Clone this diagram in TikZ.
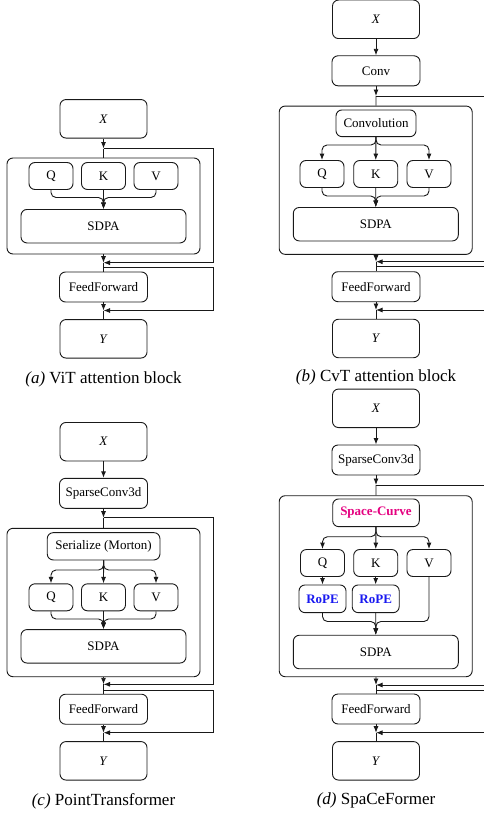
\documentclass[tikz,border=0pt]{standalone}
\usepackage{fontspec}
\setmainfont{Liberation Serif}
\usetikzlibrary{arrows.meta}
\definecolor{curvepink}{RGB}{228,0,127}
\definecolor{ropeblue}{RGB}{25,25,240}

\begin{document}
\begin{tikzpicture}[x=1pt, y=-1pt, line width=0.9pt, draw=black!90, >={Latex[length=6.5pt,width=5pt]},
    every node/.style={draw=black!90, rounded corners=6pt, inner sep=0pt, font=\fontsize{13}{15}\selectfont},
    iobox/.style={minimum width=87, minimum height=38.5},
    opbox/.style={minimum width=88, minimum height=30},
    headbox/.style={minimum width=44, minimum height=27},
    attbox/.style={minimum width=165, minimum height=33.5},
    outbox/.style={minimum width=193},
    caption/.style={draw=none, rounded corners=0pt, font=\fontsize{17}{20}\selectfont}]
    \clip (0,0) rectangle (484,816);

    % (a) ViT
    \node[iobox] (Xa) at (103.5, 118.8) {\textit{X}};
    \node[outbox, minimum height=96] (blka) at (103.5, 206) {};
    \node[headbox] (Qa) at (51, 176) {Q};
    \node[headbox] (Ka) at (103.5, 176) {K};
    \node[headbox] (Va) at (156, 176) {V};
    \node[attbox] (SDPAa) at (103.5, 226.2) {SDPA};
    \node[opbox] (FFa) at (103.5, 287) {FeedForward};
    \node[iobox] (Ya) at (103.5, 338.8) {\textit{Y}};
    \node[caption] (capa) at (103.5, 379) {\textit{(a)} ViT attention block};
    \coordinate (ra) at (213, 0);
    \coordinate (mla) at (0, 197.5);
    \coordinate (j1a) at (103.5, 148.5);
    \coordinate (j2a) at (103.5, 262.7);
    \coordinate (j3a) at (103.5, 267.7);
    \coordinate (j4a) at (103.5, 310.5);

    \draw[->] (Xa) -- (j1a);
    \draw (j1a) -- (blka);
    \draw[->] (j1a) -- (j1a -| ra) -- (j2a -| ra) -- (j2a); % residual
    \draw[->, rounded corners=5pt] (Qa) -- (Qa.south |- mla) -| (SDPAa.north);
    \draw[->, rounded corners=5pt] (Va) -- (Va.south |- mla) -| (SDPAa.north);
    \draw[->] (Ka) -- (SDPAa);
    \draw[->] (blka) -- (j2a);
    \draw (j2a) -- (FFa);
    \draw[->] (j3a) -- (j3a -| ra) -- (j4a -| ra) -- (j4a); % residual
    \draw[->] (FFa) -- (j4a);
    \draw (j4a) -- (Ya);

    % (b) CvT
    \node[iobox] (Xb) at (376, 19.3) {\textit{X}};
    \node[opbox] (Convb) at (376, 70.8) {Conv};
    \node[outbox, minimum height=148.3] (blkb) at (375.7, 180.2) {};
    \node[minimum width=80, minimum height=26.7] (Cnvb) at (376, 123.3) {Convolution};
    \node[headbox] (Qb) at (322, 174) {Q};
    \node[headbox] (Kb) at (375.7, 174) {K};
    \node[headbox] (Vb) at (429, 174) {V};
    \node[attbox] (SDPAb) at (375.8, 224.2) {SDPA};
    \node[opbox] (FFb) at (376, 286.7) {FeedForward};
    \node[iobox] (Yb) at (376, 338.5) {\textit{Y}};
    \node[caption] (capb) at (376, 377.7) {\textit{(b)} CvT attention block};
    \coordinate (rb) at (494, 0);
    \coordinate (brb) at (0, 145);
    \coordinate (mlb) at (0, 196);
    \coordinate (j1b) at (376, 96);
    \coordinate (j2b) at (376, 261.7);
    \coordinate (j3b) at (376, 266.7);
    \coordinate (j4b) at (376, 310);

    \draw[->] (Xb) -- (Convb);
    \draw[->] (Convb) -- (j1b);
    \draw (j1b) -- (blkb);
    \draw (j1b) -- (j1b -| rb) -- (j2b -| rb);
    \draw[->] (j2b -| rb) -- (j2b);
    \draw[->, rounded corners=5pt] (Cnvb) -- (Cnvb.south |- brb) -| (Qb.north);
    \draw[->, rounded corners=5pt] (Cnvb) -- (Cnvb.south |- brb) -| (Vb.north);
    \draw[->] (Cnvb) -- (Kb);
    \draw[->, rounded corners=5pt] (Qb) -- (Qb.south |- mlb) -| (SDPAb.north);
    \draw[->, rounded corners=5pt] (Vb) -- (Vb.south |- mlb) -| (SDPAb.north);
    \draw[->] (Kb) -- (SDPAb);
    \draw[->] (blkb) -- (j2b);
    \draw (j2b) -- (FFb);
    \draw (j3b) -- (j3b -| rb) -- (j4b -| rb);
    \draw[->] (j4b -| rb) -- (j4b);
    \draw[->] (FFb) -- (j4b);
    \draw (j4b) -- (Yb);

    % (c) PointTransformer
    \node[iobox] (Xc) at (103.5, 441.7) {\textit{X}};
    \node[opbox] (SCc) at (103.5, 493.3) {SparseConv3d};
    \node[outbox, minimum height=148.4] (blkc) at (103.5, 602.5) {};
    \node[minimum width=112.7, minimum height=27.3] (Serc) at (103.6, 546.3) {Serialize (Morton)};
    \node[headbox] (Qc) at (51, 597.3) {Q};
    \node[headbox] (Kc) at (103.5, 597.3) {K};
    \node[headbox] (Vc) at (156, 597.3) {V};
    \node[attbox] (SDPAc) at (103.5, 646.3) {SDPA};
    \node[opbox] (FFc) at (103.5, 709.2) {FeedForward};
    \node[iobox] (Yc) at (103.5, 760.8) {\textit{Y}};
    \node[caption] (capc) at (103.5, 801) {\textit{(c)} PointTransformer};
    \coordinate (rc) at (213, 0);
    \coordinate (brc) at (0, 570);
    \coordinate (mlc) at (0, 619);
    \coordinate (j1c) at (103.5, 517.7);
    \coordinate (j2c) at (103.5, 684.3);
    \coordinate (j3c) at (103.5, 690);
    \coordinate (j4c) at (103.5, 732.7);

    \draw[->] (Xc) -- (SCc);
    \draw[->] (SCc) -- (j1c);
    \draw (j1c) -- (blkc);
    \draw[->] (j1c) -- (j1c -| rc) -- (j2c -| rc) -- (j2c);
    \draw[->, rounded corners=5pt] (Serc) -- (Serc.south |- brc) -| (Qc.north);
    \draw[->, rounded corners=5pt] (Serc) -- (Serc.south |- brc) -| (Vc.north);
    \draw[->] (Serc) -- (Kc);
    \draw[->, rounded corners=5pt] (Qc) -- (Qc.south |- mlc) -| (SDPAc.north);
    \draw[->, rounded corners=5pt] (Vc) -- (Vc.south |- mlc) -| (SDPAc.north);
    \draw[->] (Kc) -- (SDPAc);
    \draw[->] (blkc) -- (j2c);
    \draw (j2c) -- (FFc);
    \draw[->] (j3c) -- (j3c -| rc) -- (j4c -| rc) -- (j4c);
    \draw[->] (FFc) -- (j4c);
    \draw (j4c) -- (Yc);

    % (d) SpaCeFormer
    \node[iobox] (Xd) at (376, 408.3) {\textit{X}};
    \node[opbox] (SCd) at (376, 460) {SparseConv3d};
    \node[outbox, minimum height=181] (blkd) at (375.7, 586.2) {};
    \node[minimum width=86.6, minimum height=27.7, text=curvepink, font=\fontsize{13}{15}\selectfont\bfseries] (SpCd) at (376, 512.8) {Space-Curve};
    \node[headbox] (Qd) at (322.5, 563) {Q};
    \node[headbox] (Kd) at (375.7, 563) {K};
    \node[headbox] (Vd) at (429, 563) {V};
    \node[minimum width=47, minimum height=27.7, text=ropeblue, font=\fontsize{13}{15}\selectfont\bfseries] (RQd) at (322.5, 598.8) {RoPE};
    \node[minimum width=47, minimum height=27.7, text=ropeblue, font=\fontsize{13}{15}\selectfont\bfseries] (RKd) at (375.7, 598.8) {RoPE};
    \node[attbox] (SDPAd) at (375.8, 652) {SDPA};
    \node[opbox] (FFd) at (376, 709) {FeedForward};
    \node[iobox] (Yd) at (376, 760.8) {\textit{Y}};
    \node[caption] (capd) at (376, 800) {\textit{(d)} SpaCeFormer};
    \coordinate (rd) at (494, 0);
    \coordinate (brd) at (0, 536.7);
    \coordinate (mld) at (0, 621.5);
    \coordinate (j1d) at (376, 485);
    \coordinate (j2d) at (376, 685);
    \coordinate (j3d) at (376, 690);
    \coordinate (j4d) at (376, 732.7);

    \draw[->] (Xd) -- (SCd);
    \draw[->] (SCd) -- (j1d);
    \draw (j1d) -- (blkd);
    \draw (j1d) -- (j1d -| rd) -- (j2d -| rd);
    \draw[->] (j2d -| rd) -- (j2d);
    \draw[->, rounded corners=5pt] (SpCd) -- (SpCd.south |- brd) -| (Qd.north);
    \draw[->, rounded corners=5pt] (SpCd) -- (SpCd.south |- brd) -| (Vd.north);
    \draw[->] (SpCd) -- (Kd);
    \draw[->] (Qd) -- (RQd);
    \draw[->] (Kd) -- (RKd);
    \draw[->, rounded corners=5pt] (RQd) -- (RQd.south |- mld) -| (SDPAd.north);
    \draw[->, rounded corners=5pt] (Vd) -- (Vd.south |- mld) -| (SDPAd.north);
    \draw[->] (RKd) -- (SDPAd);
    \draw[->] (blkd) -- (j2d);
    \draw (j2d) -- (FFd);
    \draw (j3d) -- (j3d -| rd) -- (j4d -| rd);
    \draw[->] (j4d -| rd) -- (j4d);
    \draw[->] (FFd) -- (j4d);
    \draw (j4d) -- (Yd);
\end{tikzpicture}
\end{document}
